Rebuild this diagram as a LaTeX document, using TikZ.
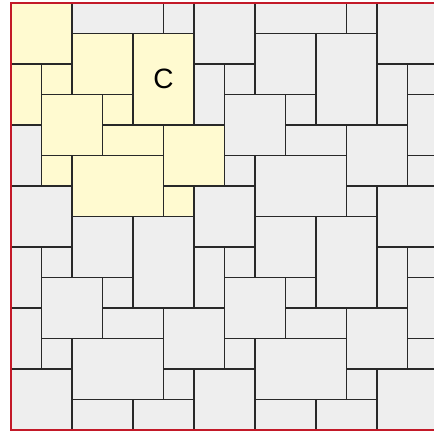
\documentclass[tikz,border=0pt]{standalone}
\usepackage{fontspec}
\setmainfont{Liberation Sans}
\definecolor{tileyellow}{RGB}{255,250,208}
\definecolor{tilegrey}{RGB}{238,238,238}
\definecolor{tileedge}{RGB}{40,40,40}
\definecolor{framered}{RGB}{195,25,40}
\begin{document}
\begin{tikzpicture}[x=30.5pt,y=-30.5pt,
  tile/.style={draw=tileedge,line width=1.8pt},
  greytile/.style={tile,fill=tilegrey},
  yellowtile/.style={tile,fill=tileyellow},
  frameline/.style={draw=framered,line width=1.6pt},
  labeltext/.style={font=\fontsize{28}{31}\selectfont,text=black}]
\useasboundingbox (-0.3607,-0.0984) rectangle (13.869,14.033);
\begin{scope}
\clip (0,0) rectangle (14,14);
\foreach \px in {-1,0,1,2}{
  \foreach \py in {-1,0,1,2}{
    \foreach \x/\y/\w/\h in {0/0/2/2, 2/1/2/2, 4/1/2/3, 0/2/1/2, 1/2/1/1, 1/3/2/2, 3/3/1/1, 3/4/2/1, 5/4/2/2, 1/5/1/1, 2/5/3/2, 5/6/1/1}{
      \filldraw[greytile] ({\x+6*\px},{\y+6*\py}) rectangle ++(\w,\h);
    }
  }
}
\foreach \x/\y/\w/\h in {0/0/2/2, 2/1/2/2, 4/1/2/3, 0/2/1/2, 1/2/1/1, 1/3/2/2, 3/3/1/1, 3/4/2/1, 5/4/2/2, 1/5/1/1, 2/5/3/2, 5/6/1/1}{
  \filldraw[yellowtile] (\x,\y) rectangle ++(\w,\h);
}
\end{scope}
\draw[frameline] (0,0) rectangle (14,14);
\node[labeltext] (c) at (5,2.5) {C};
\end{tikzpicture}
\end{document}
